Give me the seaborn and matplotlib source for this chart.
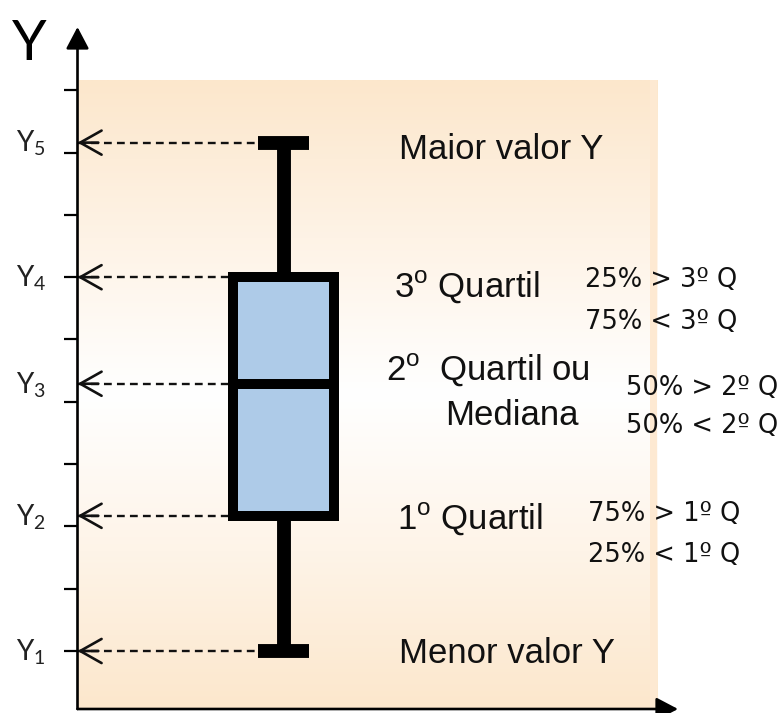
import numpy as np
import matplotlib
matplotlib.use("Agg")
import matplotlib.pyplot as plt
import matplotlib.transforms as mtransforms
from matplotlib.colors import LinearSegmentedColormap
import seaborn as sns

# Five summary values of Y (minimum, Q1, median, Q3, maximum)
y_values = [1.0, 3.17, 5.29, 7.0, 9.16]
y_labels = [r"$\mathregular{Y_1}$", r"$\mathregular{Y_2}$", r"$\mathregular{Y_3}$",
            r"$\mathregular{Y_4}$", r"$\mathregular{Y_5}$"]
tick_positions = list(range(1, 11))

# Annotation texts
left_notes = ["Menor valor Y", r"1$^{\mathregular{o}}$ Quartil",
              r"2$^{\mathregular{o}}$  Quartil ou", "Mediana",
              r"3$^{\mathregular{o}}$ Quartil", "Maior valor Y"]
right_notes = ["25% > 3º Q", "75% < 3º Q",
               "50% > 2º Q", "50% < 2º Q",
               "75% > 1º Q", "25% < 1º Q"]

sns.set_style("white")

W, H = 781, 713
fig = plt.figure(figsize=(W / 100, H / 100), dpi=100)
ax = fig.add_axes([77.5 / W, 4 / H, (678 - 77.5) / W, (709 - 27) / H])


def fx(px):
    return px / W


def fy(py):
    return 1 - py / H


box_width = 0.8
box_color = "#AECBE8"

sns.boxplot(y=y_values, ax=ax, whis=np.inf, width=box_width, color=box_color,
            saturation=1, linecolor="black", linewidth=7.2,
            boxprops=dict(linewidth=7.2, edgecolor="black", zorder=3),
            medianprops=dict(linewidth=7.2, color="black", zorder=3.1),
            whiskerprops=dict(linewidth=10, color="black", zorder=2.9),
            capprops=dict(linewidth=10, color="black", solid_capstyle="butt", zorder=3))

x0, x1 = -1.632, 3.125
y0, y1 = 0.069, 11.016
ax.set_xlim(x0, x1)
ax.set_ylim(y0, y1)

# Background panel: peach at top and bottom fading to white in the middle
bg_top = 10.165
bg_right = 2.958
cmap = LinearSegmentedColormap.from_list(
    "peach", ["#FCE7CC", "#FEF4E8", "#FFFFFF", "#FEF3E6", "#FCE7CC"])
grad = np.linspace(0, 1, 256).reshape(-1, 1)
ax.imshow(grad, cmap=cmap, aspect="auto", origin="lower",
          extent=[x0, bg_right, y0, bg_top], zorder=0)
ax.add_patch(plt.Rectangle((bg_right - 0.055, y0), 0.055, bg_top - y0,
                           facecolor="#FDE9D2", edgecolor="none", zorder=0.5))

# Y axis and X axis with arrowheads
axis_kw = dict(arrowstyle="-|>,head_length=0.95,head_width=0.5", lw=1.9,
               color="black", shrinkA=0, shrinkB=0, mutation_scale=14)
ax.annotate("", xy=(0, 1), xytext=(0, 0), xycoords="axes fraction",
            arrowprops=axis_kw, annotation_clip=False, zorder=5)
ax.annotate("", xy=(1, 0), xytext=(0, 0), xycoords="axes fraction",
            arrowprops=axis_kw, annotation_clip=False, zorder=5)

for s in ax.spines.values():
    s.set_visible(False)
ax.set_xticks([])
ax.set_yticks(tick_positions)
ax.set_yticklabels([])
ax.tick_params(axis="y", left=True, length=10, width=1.6, color="black", direction="out")
ax.grid(False)

# Dashed guides from each summary value back to the Y axis
cap_half = box_width * 0.5 / 2
ends = [-cap_half, -box_width / 2, -box_width / 2, -box_width / 2, -cap_half]
for v, xe in zip(y_values, ends):
    ax.plot([x0, xe], [v, v], color="#111111", lw=1.7,
            linestyle=(0, (3.3, 2.2)), zorder=1.5)
    ax.annotate("", xy=(0, v), xycoords=("axes fraction", "data"),
                xytext=(15, 0), textcoords="offset points",
                arrowprops=dict(arrowstyle="->,head_length=1.1,head_width=0.62",
                                lw=1.9, color="#111111", shrinkA=0, shrinkB=0,
                                mutation_scale=14),
                annotation_clip=False, zorder=4)

# Y labels next to the axis
lab_tr = mtransforms.blended_transform_factory(fig.transFigure, ax.transData)
for v, lab in zip(y_values, y_labels):
    ax.text(fx(16), v - 0.15, lab, transform=lab_tr, ha="left", va="baseline",
            fontsize=20, family=["Lato", "DejaVu Sans"], color="#222222")

fig.text(fx(12), fy(60), "Y", fontsize=40, family=["Lato", "DejaVu Sans"],
         ha="left", va="baseline", color="black")

# Descriptions of each box element
left_pos = [(399, 663), (397, 529), (386, 380), (445, 425), (394, 297), (399, 159)]
for (px, py), t in zip(left_pos, left_notes):
    fig.text(fx(px), fy(py), t, fontsize=25, family=["Liberation Sans", "DejaVu Sans"],
             ha="left", va="baseline", color="#111111")

right_pos = [(585, 287), (585, 329), (626, 395), (626, 433), (588, 521), (588, 562)]
for (px, py), t in zip(right_pos, right_notes):
    fig.text(fx(px), fy(py), t, fontsize=18.5, family=["DejaVu Sans"],
             ha="left", va="baseline", color="#111111")

fig.savefig("out.png", dpi=100)
